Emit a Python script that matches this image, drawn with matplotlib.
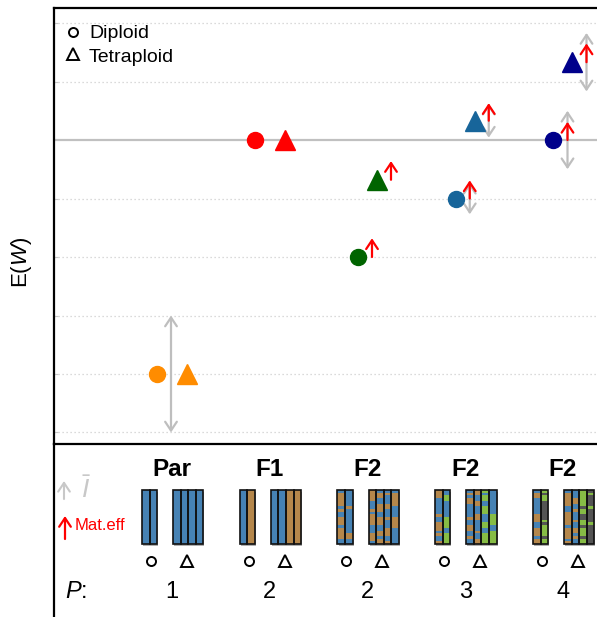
import matplotlib
matplotlib.use('Agg')
import matplotlib.pyplot as plt
from matplotlib.patches import Rectangle, ArrowStyle

plt.rcParams['font.family'] = ['Liberation Sans', 'DejaVu Sans']
plt.rcParams['mathtext.fontset'] = 'custom'
plt.rcParams['mathtext.rm'] = 'Liberation Sans'
plt.rcParams['mathtext.it'] = 'Liberation Sans:italic'
plt.rcParams['mathtext.bf'] = 'Liberation Sans:bold'

# ---------------- data ----------------
generations = ['Par', 'F1', 'F2', 'F2', 'F2']
n_parents = ['1', '2', '2', '3', '4']
group_colors = ['#FF8C00', '#FF0000', '#006400', '#17659A', '#00008B']
ew_diploid = [0.600, 1.000, 0.800, 0.900, 1.000]
ew_tetraploid = [0.600, 1.000, 0.932, 1.033, 1.133]
mat_eff_diploid = [0.0, 0.0, 0.032, 0.031, 0.031]
mat_eff_tetraploid = [0.0, 0.0, 0.032, 0.030, 0.032]
ibar_diploid = [0.100, 0.0, 0.0, 0.027, 0.050]
ibar_tetraploid = [0.0, 0.0, 0.0, 0.029, 0.050]
y_grid = [0.5, 0.6, 0.7, 0.8, 0.9, 1.1, 1.2]
y_ref = 1.0
legend_labels = ['Diploid', 'Tetraploid']

# chromosome ancestry mosaics (B=parent 1, O=parent 2, G=parent 3, D=parent 4)
diploid_chroms = [
    ['BBBBBBBBBBBBBBBBBBBB', 'BBBBBBBBBBBBBBBBBBBB'],
    ['BBBBBBBBBBBBBBBBBBBB', 'OOOOOOOOOOOOOOOOOOOO'],
    ['BOOOOOBOBBOOOBOOOOBB', 'BBBBBBOBBBBBBBBBOOBB'],
    ['OOOBBBBBBOBBOOOBOBBO', 'BBGGBBBBBBGGGGBBGGGG'],
    ['BOOBBBBBBOOOBBOOOBOO', 'GDGGDDDDDDDGDGGGGDGG'],
]
tetraploid_chroms = [
    ['BBBBBBBBBBBBBBBBBBBB'] * 4,
    ['BBBBBBBBBBBBBBBBBBBB', 'BBBBBBBBBBBBBBBBBBBB',
     'OOOOOOOOOOOOOOOOOOOO', 'OOOOOOOOOOOOOOOOOOOO'],
    ['OOOOBBBOBOOOOBBBOOOB', 'BOOBBOOOBBOOOBBOOBOO',
     'BOBBBOOBBBOBBBOOOBBO', 'BOOOOOBBBBOOOOBBBBBB'],
    ['BOBOOBBBBBOBBOOBBOBB', 'OOBBOOBBBOOBBBBOBBOO',
     'GBGGBBGGGBBBGGBBGGGG', 'BBBBBBBBBGGGGBBGGGGG'],
    ['BOOOOOBBOOOOOBOOOOBO', 'BBBOOBBOBBBOBBOOBOBB',
     'GGGGGGDGGDDGGDGGGDGG', 'DGDDDDGDDDDDGDDDDDDD'],
]
chrom_colors = {'B': '#4682B4', 'O': '#B5874B', 'G': '#86BC45', 'D': '#545454'}

# ---------------- layout ----------------
W, H = 597, 617
fig = plt.figure(figsize=(W / 100, H / 100), dpi=100)
PX = 97.75            # pixels per group unit
X0 = 172              # pixel of group 1
def px(v):
    return v / PX
xl = (1 + (54 - X0) / PX, 1 + (W - X0) / PX)

ax = fig.add_axes([54 / W, 1 - 444 / H, 1 - 54 / W, (444 - 8) / H])
ax.set_xlim(*xl)
ax.set_ylim(1 - (444 - 140) / 585, 1 + (140 - 8) / 585)
ax.spines['right'].set_visible(False)
for s in ['top', 'bottom', 'left']:
    ax.spines[s].set_linewidth(1.6)
ax.set_xticks([])
ax.set_yticks(y_grid)
ax.set_yticklabels([])
ax.tick_params(axis='y', direction='in', length=3, color='#C8C8C8', width=0.8)

for g in y_grid:
    ax.axhline(g, color='#CFCFCF', lw=0.9, ls=(0, (1, 2.2)), zorder=0)
ax.axhline(y_ref, color='#C0C0C0', lw=1.6, zorder=1)

gray_style = ArrowStyle('<->', head_length=0.45, head_width=0.3)
red_style = ArrowStyle('->', head_length=0.45, head_width=0.3)

xs = list(range(1, len(generations) + 1))
for i, xg in enumerate(xs):
    half = px(15) if i < 2 else px(9.5)
    col = group_colors[i]
    for xm, ym, me, ib, mk, ms in [
        (xg - half, ew_diploid[i], mat_eff_diploid[i], ibar_diploid[i], 'o', 11.5),
        (xg + half, ew_tetraploid[i], mat_eff_tetraploid[i], ibar_tetraploid[i], '^', 14.5)]:
        ax.plot([xm], [ym], marker=mk, ms=ms, color=col, mec=col, ls='none', zorder=5)
        xa = xm + px(14)
        if ib > 0:
            ax.annotate('', xy=(xa, ym + ib), xytext=(xa, ym - ib),
                        arrowprops=dict(arrowstyle=gray_style, color='#BEBEBE', lw=1.6,
                                        shrinkA=0, shrinkB=0, mutation_scale=14), zorder=3)
        if me > 0:
            ax.annotate('', xy=(xa, ym + me), xytext=(xa, ym),
                        arrowprops=dict(arrowstyle=red_style, color='#FF0000', lw=1.6,
                                        shrinkA=0, shrinkB=0, mutation_scale=14), zorder=4)

# legend
ax.plot([(72.5 - 54) / 543], [1 - (32 - 8) / 436], marker='o', ms=6.5, mfc='none',
        mec='black', mew=1.4, ls='none', transform=ax.transAxes, clip_on=False)
ax.plot([(72.5 - 54) / 543], [1 - (54 - 8) / 436], marker='^', ms=9, mfc='none',
        mec='black', mew=1.4, ls='none', transform=ax.transAxes, clip_on=False)
ax.text((89 - 54) / 543, 1 - (32 - 8) / 436, legend_labels[0], fontsize=14,
        va='center_baseline', ha='left', transform=ax.transAxes)
ax.text((89 - 54) / 543, 1 - (55 - 8) / 436, legend_labels[1], fontsize=14,
        va='center_baseline', ha='left', transform=ax.transAxes)

fig.text(22 / W, 1 - 262 / H, 'E($W$)', rotation=90, fontsize=16, ha='center', va='center')

# ---------------- bottom panel ----------------
ax2 = fig.add_axes([54 / W, 0, 1 - 54 / W, 173 / H])
ax2.set_xlim(*xl)
ax2.set_ylim(617, 444)
for s in ['top', 'right', 'bottom']:
    ax2.spines[s].set_visible(False)
ax2.spines['left'].set_linewidth(1.6)
ax2.set_xticks([])
ax2.set_yticks([])
ax2.patch.set_alpha(0)

cw = px(7.6)
ytop, ybot = 490, 544
def draw_chrom(x0, pattern):
    n = len(pattern)
    h = (ybot - ytop) / n
    ax2.add_patch(Rectangle((x0 + px(1), ytop + 1.5), cw, ybot - ytop,
                            facecolor='#B0B0B0', edgecolor='none', zorder=1))
    for k, c in enumerate(pattern):
        ax2.add_patch(Rectangle((x0, ytop + k * h), cw, h, facecolor=chrom_colors[c],
                                edgecolor='none', zorder=2))
    ax2.add_patch(Rectangle((x0, ytop), cw, ybot - ytop, facecolor='none',
                            edgecolor='#111111', lw=1.2, zorder=3))

for i, xg in enumerate(xs):
    dl = xg - px(30)
    for j, pat in enumerate(diploid_chroms[i]):
        draw_chrom(dl + j * cw, pat)
    tl = xg + px(1)
    for j, pat in enumerate(tetraploid_chroms[i]):
        draw_chrom(tl + j * cw, pat)
    ax2.plot([xg - px(21)], [561], marker='o', ms=6.5, mfc='white', mec='black',
             mew=1.4, ls='none')
    ax2.plot([xg + px(15)], [561], marker='^', ms=9, mfc='white', mec='black',
             mew=1.4, ls='none')
    ax2.text(xg, 469, generations[i], fontsize=17.5, fontweight='bold', ha='center', va='center')
    ax2.text(xg, 592, n_parents[i], fontsize=17, ha='center', va='center')

ax2.text(xl[0] + px(11), 592, '$P$:', fontsize=17, ha='left', va='center')

# side legend for arrows
ax2.annotate('', xy=(xl[0] + px(10), 481), xytext=(xl[0] + px(10), 499),
             arrowprops=dict(arrowstyle=red_style, color='#C8C8C8', lw=1.5,
                             shrinkA=0, shrinkB=0, mutation_scale=14))
ax2.text(xl[0] + px(27), 490, r'$\bar{I}$', fontsize=19, color='#C8C8C8', ha='left', va='center')
ax2.annotate('', xy=(xl[0] + px(11), 516), xytext=(xl[0] + px(11), 539),
             arrowprops=dict(arrowstyle=red_style, color='#FF0000', lw=1.6,
                             shrinkA=0, shrinkB=0, mutation_scale=14))
ax2.text(xl[0] + px(21), 526, 'Mat.eff', fontsize=12, color='#FF0000', ha='left', va='center')

fig.savefig('out.png', dpi=100)
